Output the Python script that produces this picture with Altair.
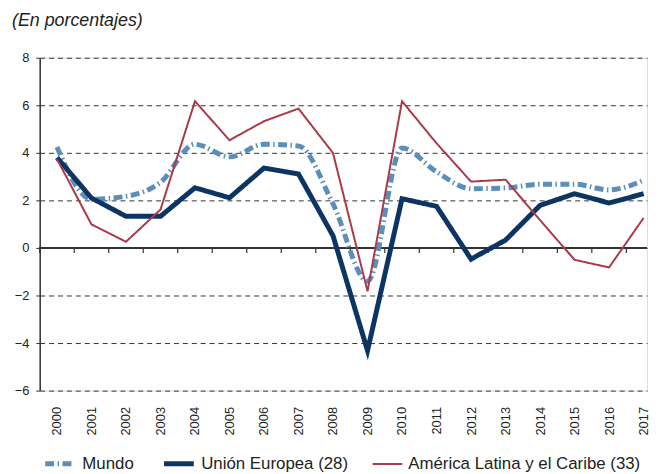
import altair as alt
import pandas as pd

years = list(range(2000, 2018))
mundo = [4.25, 2.05, 2.17, 2.76, 4.36, 3.83, 4.36, 4.29, 1.85, -1.4, 4.2, 3.2, 2.49, 2.52, 2.68, 2.68, 2.44, 2.85]
ue = [3.80, 2.10, 1.33, 1.33, 2.53, 2.11, 3.36, 3.11, 0.51, -4.32, 2.07, 1.75, -0.47, 0.33, 1.79, 2.28, 1.89, 2.28]
alc = [3.74, 0.99, 0.26, 1.61, 6.17, 4.53, 5.33, 5.86, 3.99, -1.82, 6.17, 4.4, 2.79, 2.87, 1.17, -0.5, -0.82, 1.26]
series_names = ["Mundo", "Unión Europea (28)", "América Latina y el Caribe (33)"]
colors = ["#5b8fba", "#0c3564", "#a93a4a"]
widths = [5, 5, 2]
y_ticks = [-6, -4, -2, 0, 2, 4, 6, 8]
title_text = "(En porcentajes)"

rows = []
for name, vals in zip(series_names, [mundo, ue, alc]):
    for yr, v in zip(years, vals):
        rows.append({"year": yr, "value": v, "serie": name})
df = pd.DataFrame(rows)

tick_df = pd.DataFrame({"year": [y - 0.5 for y in years], "value": [0.0] * len(years), "v2": [-0.21] * len(years)})

W, H = 613, 336
FONT = "Liberation Sans"
x_scale = alt.Scale(domain=[1999.5, 2017.1], nice=False, zero=False)
y_scale = alt.Scale(domain=[-6, 8], nice=False, zero=False)

leg = alt.Legend(
    title=None, orient="none", legendX=3, legendY=392, direction="horizontal",
    symbolType="stroke", symbolSize=900, labelFontSize=17, labelFont=FONT,
    labelColor="#222", labelOffset=5, columnPadding=20, padding=0,
    labelLimit=400,
)

color = alt.Color("serie:N", scale=alt.Scale(domain=series_names, range=colors), legend=leg)
dash = alt.StrokeDash("serie:N", scale=alt.Scale(domain=series_names, range=[[9, 3.5, 1.5, 3.5], [1, 0], [1, 0]]), legend=leg)
swidth = alt.StrokeWidth("serie:N", scale=alt.Scale(type="ordinal", domain=series_names, range=widths), legend=leg)

x_axis = alt.Axis(
    values=years, format="d", labelAngle=270, ticks=False, domain=False, grid=False,
    labelPadding=16, labelFontSize=13, labelFlush=False, labelColor="#222", title=None,
    labelFont=FONT)
y_axis = alt.Axis(
    values=y_ticks, grid=True, gridDash=[5, 4], gridColor="#333", gridWidth=1,
    domainColor="#333", domainWidth=1.5, tickColor="#333", tickSize=4, labelPadding=7,
    labelFontSize=13, labelColor="#222", title=None, labelFont=FONT)

x_enc = alt.X("year:Q", scale=x_scale, axis=x_axis)
y_enc = alt.Y("value:Q", scale=y_scale, axis=y_axis)

base = alt.Chart(df)

zero_rule = alt.Chart(tick_df).mark_rule(color="#333", strokeWidth=1.5).encode(
    y=y_enc, x=alt.value(0), x2=alt.value(W))

ticks = alt.Chart(tick_df).mark_rule(color="#333", strokeWidth=1.2).encode(
    x=x_enc, y=y_enc, y2="v2:Q")

def line(name, interp):
    return base.transform_filter(alt.datum.serie == name).mark_line(
        interpolate=interp, strokeCap="butt", strokeJoin="miter", clip=True
    ).encode(x=x_enc, y=y_enc, color=color, strokeDash=dash, strokeWidth=swidth)

title = alt.Chart(pd.DataFrame({"t": [title_text]})).mark_text(
    align="left", baseline="middle", fontSize=18, fontStyle="italic", font=FONT, color="#222"
).encode(x=alt.value(-28), y=alt.value(-37), text="t:N")

chart = alt.layer(
    zero_rule, ticks,
    line("Mundo", "monotone"),
    line("Unión Europea (28)", "linear"),
    line("América Latina y el Caribe (33)", "linear"),
    title,
).properties(
    width=W, height=H,
    autosize=alt.AutoSizeParams(type="none"),
    padding={"left": 32, "top": 48, "right": 4, "bottom": 82},
).configure_view(strokeWidth=0, stroke="transparent").configure(font=FONT)

chart.save("out.html", embed_options={"renderer": "svg", "actions": False})
